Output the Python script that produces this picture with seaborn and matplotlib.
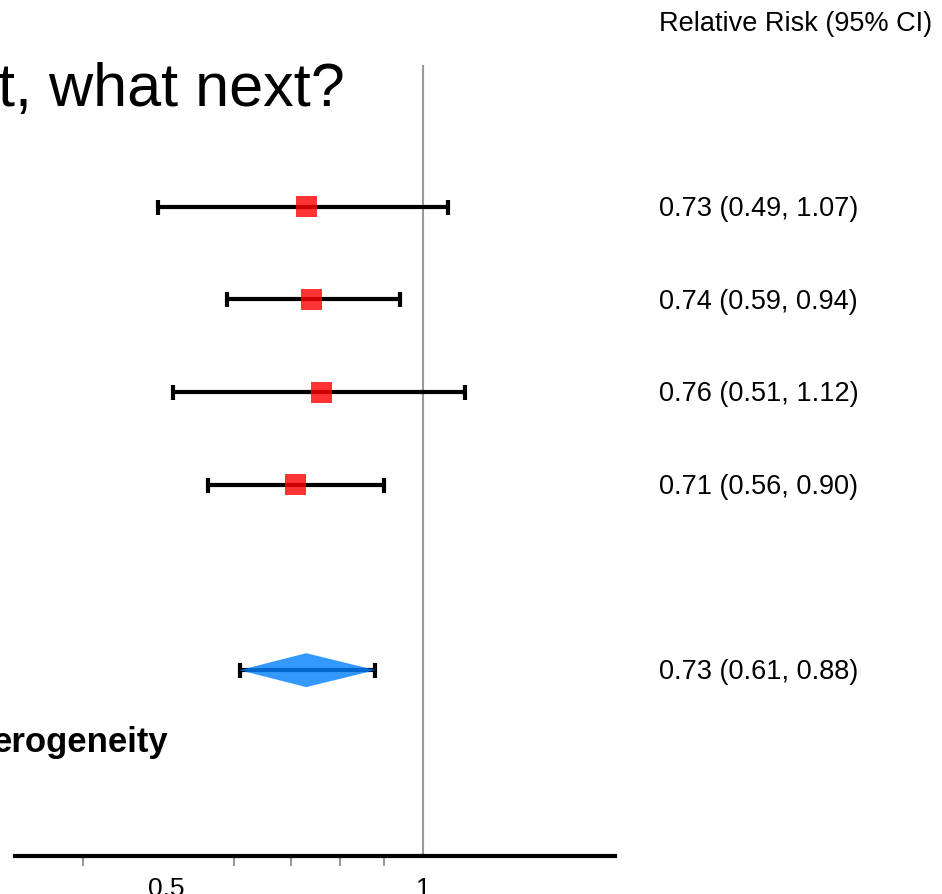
import numpy as np
import matplotlib
matplotlib.use("Agg")
import matplotlib.pyplot as plt
import matplotlib.transforms as mtransforms
from matplotlib.ticker import NullFormatter, FixedLocator
import seaborn as sns
import pandas as pd

# ---- data ----
rr = [0.73, 0.74, 0.76, 0.71]
ci_low = [0.49, 0.59, 0.51, 0.56]
ci_high = [1.07, 0.94, 1.12, 0.90]
rows = [0, 1, 2, 3]
pooled_rr = 0.73
pooled_low = 0.61
pooled_high = 0.88
pooled_row = 5
ci_labels = ["0.73 (0.49, 1.07)", "0.74 (0.59, 0.94)", "0.76 (0.51, 1.12)", "0.71 (0.56, 0.90)"]
pooled_label = "0.73 (0.61, 0.88)"
header = "Relative Risk (95% CI)"
title_text = "t, what next?"
het_text = "erogeneity"
major_ticks = [0.5, 1]
major_labels = ["0.5", "1"]
minor_ticks = [0.4, 0.6, 0.7, 0.8, 0.9]

sns.set_theme(style="white")
plt.rcParams["font.family"] = ["Liberation Sans", "DejaVu Sans"]

W, H = 942, 894
fig = plt.figure(figsize=(W / 100, H / 100), dpi=100)
ax_top, ax_bot = 65, 855.5
ax = fig.add_axes([15 / W, 1 - ax_bot / H, 600 / W, (ax_bot - ax_top) / H])

df = pd.DataFrame({"rr": rr, "lo": ci_low, "hi": ci_high, "row": rows})

# reference line at 1
ax.axvline(1, color="#999999", lw=1.5, zorder=0)

# CI lines
rr_a = np.array(rr); lo_a = np.array(ci_low); hi_a = np.array(ci_high)
ax.errorbar(rr_a, rows, xerr=[rr_a - lo_a, hi_a - rr_a], fmt="none",
            ecolor="black", elinewidth=3, capsize=5.4, capthick=3, zorder=2)
ax.errorbar([pooled_rr], [pooled_row],
            xerr=[[pooled_rr - pooled_low], [pooled_high - pooled_rr]], fmt="none",
            ecolor="black", elinewidth=3, capsize=5.4, capthick=3, zorder=2)

# study squares
sns.scatterplot(data=df, x="rr", y="row", marker="s", s=228, color=(1, 0, 0),
                alpha=0.8, linewidth=0, edgecolor="none", ax=ax, zorder=3, legend=False)

# pooled diamond
h = 0.183
ax.fill([pooled_low, pooled_rr, pooled_high, pooled_rr],
        [pooled_row, pooled_row - h, pooled_row, pooled_row + h],
        color=(0, 128 / 255, 1), alpha=0.8, lw=0, zorder=3)

# axes
ax.set_xscale("log")
ax.set_xlim(0.3328, 1.679)
ax.set_ylim(7, -1.53)
ax.set_xlabel("")
ax.set_ylabel("")
ax.set_yticks([])
ax.xaxis.set_major_locator(FixedLocator(major_ticks))
ax.set_xticklabels(major_labels)
ax.xaxis.set_minor_locator(FixedLocator(minor_ticks))
ax.xaxis.set_minor_formatter(NullFormatter())
ax.tick_params(axis="x", which="major", direction="inout", length=23, width=1.5,
               color="#999999", labelsize=19, pad=4, labelcolor="black")
ax.tick_params(axis="x", which="minor", direction="out", length=7, width=1.5,
               color="#999999", bottom=True)
for s in ["top", "left", "right"]:
    ax.spines[s].set_visible(False)
ax.spines["bottom"].set_color("black")
ax.spines["bottom"].set_linewidth(3)
ax.set_facecolor("white")

# text
tr = mtransforms.blended_transform_factory(fig.transFigure, ax.transData)
off = 0.1
for r, lab in zip(rows, ci_labels):
    ax.text(659 / W, r + off, lab, transform=tr, ha="left", va="baseline",
            fontsize=19.5, color="black", clip_on=False)
ax.text(659 / W, pooled_row + off, pooled_label, transform=tr, ha="left",
        va="baseline", fontsize=19.5, color="black", clip_on=False)
ax.text(659 / W, -1.897, header, transform=tr, ha="left", va="baseline",
        fontsize=19.5, color="black", clip_on=False)
ax.text(345 / W, -1.088, title_text, transform=tr, ha="right", va="baseline",
        fontsize=44, color="black", clip_on=False)
ax.text(168 / W, 5.88, het_text, transform=tr, ha="right", va="baseline",
        fontsize=25, fontweight="bold", color="black", clip_on=False)

fig.savefig("out.png", dpi=100, facecolor="white")
